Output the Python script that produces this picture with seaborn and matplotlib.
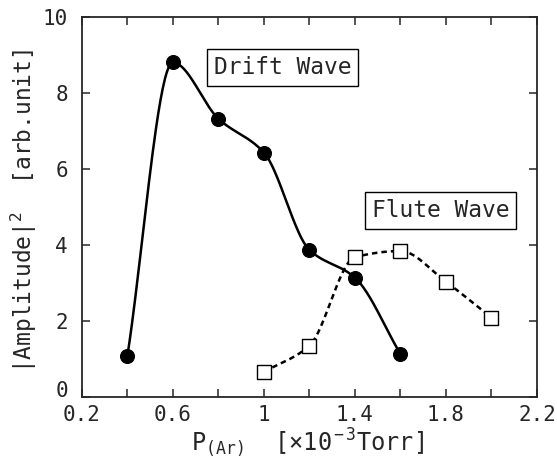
import numpy as np
import pandas as pd
import matplotlib
matplotlib.use("Agg")
import matplotlib.pyplot as plt
import seaborn as sns

# data
drift_p = [0.4, 0.6, 0.8, 1.0, 1.2, 1.4, 1.6]
drift_amp = [1.08, 8.80, 7.32, 6.43, 3.87, 3.14, 1.13]
flute_p = [1.0, 1.2, 1.4, 1.6, 1.8, 2.0]
flute_amp = [0.66, 1.35, 3.68, 3.84, 3.03, 2.09]
x_ticks = [0.2, 0.4, 0.6, 0.8, 1.0, 1.2, 1.4, 1.6, 1.8, 2.0, 2.2]
x_ticklabels = ["0.2", "", "0.6", "", "1", "", "1.4", "", "1.8", "", "2.2"]
y_ticks = [0, 2, 4, 6, 8, 10]
y_ticklabels = ["0", "2", "4", "6", "8", "10"]


def pchip(x, y, n=40):
    # smooth monotone cubic through the points (Fritsch-Carlson)
    x = np.asarray(x, float)
    y = np.asarray(y, float)
    h = np.diff(x)
    d = np.diff(y) / h
    m = np.zeros_like(y)
    for k in range(1, len(x) - 1):
        if d[k - 1] * d[k] > 0:
            w1 = 2 * h[k] + h[k - 1]
            w2 = h[k] + 2 * h[k - 1]
            m[k] = (w1 + w2) / (w1 / d[k - 1] + w2 / d[k])
    m[0] = d[0]
    m[-1] = d[-1]
    xs, ys = [], []
    for k in range(len(h)):
        t = np.linspace(0, 1, n, endpoint=(k == len(h) - 1))
        h00 = 2 * t**3 - 3 * t**2 + 1
        h10 = t**3 - 2 * t**2 + t
        h01 = -2 * t**3 + 3 * t**2
        h11 = t**3 - t**2
        xs.append(x[k] + t * h[k])
        ys.append(h00 * y[k] + h10 * h[k] * m[k] + h01 * y[k + 1] + h11 * h[k] * m[k + 1])
    return np.concatenate(xs), np.concatenate(ys)


sns.set_style("ticks")
plt.rcParams["font.family"] = ["DejaVu Sans Mono", "DejaVu Sans"]
plt.rcParams["mathtext.fontset"] = "custom"
plt.rcParams["mathtext.rm"] = "DejaVu Sans Mono"
plt.rcParams["mathtext.it"] = "DejaVu Sans Mono"

fig = plt.figure(figsize=(5.57, 4.74), dpi=100)
ax = fig.add_axes([0.147, 0.1624, 0.817, 0.802])

dx, dy = pchip(drift_p, drift_amp)
fx, fy = pchip(flute_p, flute_amp)
sns.lineplot(x=dx, y=dy, ax=ax, color="black", linewidth=1.8, sort=False)
sns.lineplot(x=fx, y=fy, ax=ax, color="black", linewidth=1.8, sort=False,
             linestyle=(0, (2.2, 1.6)))
sns.scatterplot(x=drift_p, y=drift_amp, ax=ax, color="black", s=100,
                marker="o", edgecolor="black", zorder=3)
sns.scatterplot(x=flute_p, y=flute_amp, ax=ax, marker="s", s=90,
                facecolor="white", edgecolor="black", linewidth=1.0, zorder=3)

ax.set_xlim(0.2, 2.2)
ax.set_ylim(0, 10)
ax.set_xticks(x_ticks)
ax.set_xticklabels(x_ticklabels)
ax.set_yticks(y_ticks)
ax.set_yticklabels(y_ticklabels)
ax.tick_params(direction="in", length=6, width=1.1, top=True, right=True,
               labelsize=15)
ax.tick_params(axis="x", pad=6)
ax.tick_params(axis="y", pad=10)
ax.get_yticklabels()[0].set_va("baseline")
for s in ax.spines.values():
    s.set_linewidth(1.3)

ax.set_xlabel(r"P$_{\rm (Ar)}$  [×10$^{\rm -3}$Torr]", fontsize=17)
ax.xaxis.set_label_coords(0.495, -0.077)
ax.set_ylabel(r"|Amplitude|$^{\rm 2}$  [arb.unit]", fontsize=16.5)
ax.yaxis.set_label_coords(-0.095, 0.49)

box = dict(boxstyle="square,pad=0.3", facecolor="white", edgecolor="black", linewidth=1.0)
ax.text(1.083, 8.67, "Drift Wave", fontsize=16.5, ha="center", va="center", bbox=box)
ax.text(1.776, 4.91, "Flute Wave", fontsize=16.5, ha="center", va="center", bbox=box)

fig.savefig("out.png", dpi=100)
